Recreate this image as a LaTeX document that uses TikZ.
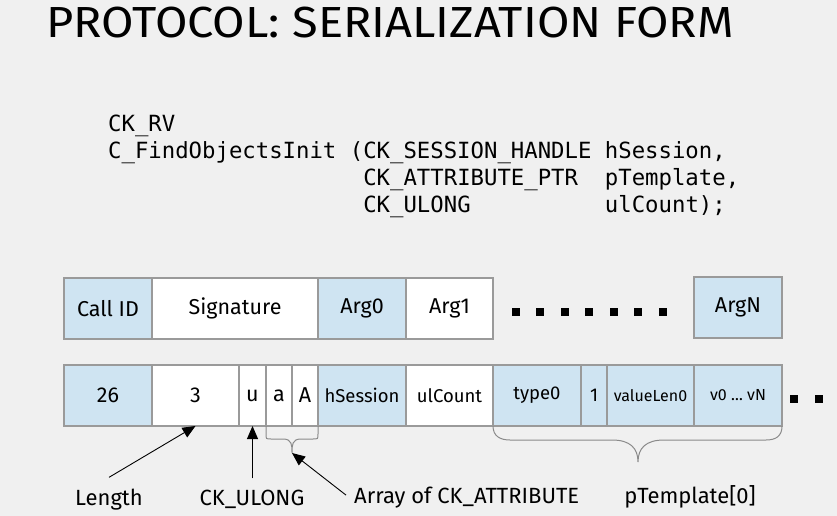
\documentclass[tikz,border=0pt]{standalone}
\usepackage{fontspec}
\setmainfont{Fira Sans}
\newfontfamily\codefont{DejaVu Sans Mono}
\usetikzlibrary{calc,arrows.meta,positioning}
\definecolor{bggray}{HTML}{F0F0F0}
\definecolor{cellblue}{HTML}{CFE4F2}
\definecolor{edgegray}{HTML}{9A9A9A}
\definecolor{bracegray}{HTML}{8A8A8A}
\tikzset{
  cell/.style={draw=edgegray, line width=1.2pt, fill=white, inner sep=0pt, outer sep=0pt,
    minimum height=61pt, align=center, font=\fontsize{21.5}{24}\selectfont},
  bluecell/.style={cell, fill=cellblue},
  midtext/.style={font=\fontsize{18.5}{22}\selectfont},
  smalltext/.style={font=\fontsize{16}{20}\selectfont},
  lbl/.style={font=\fontsize{22}{24}\selectfont, inner sep=2pt},
  arr/.style={-{Triangle[length=13pt,width=11pt]}, line width=0.9pt},
  brace/.style={draw=bracegray, line width=1pt},
  dot/.style={fill=black}
}
\begin{document}
\begin{tikzpicture}[x=1pt, y=-1pt, node distance=0pt]
  \fill[bggray] (0,0) rectangle (837,516);
  \useasboundingbox (0,0) rectangle (837,516);

  % title and prototype
  \node[anchor=base west, inner sep=0pt, font=\fontsize{43.5}{46}\selectfont] (title) at (46,38)
    {\scalebox{1.08}[1]{PROTOCOL: SERIALIZATION FORM}};
  \node[anchor=north west, inner sep=0pt, align=left, font=\codefont\fontsize{22.3}{27}\selectfont] (proto) at (108,114.5)
    {CK\_RV\\
     C\_FindObjectsInit (CK\_SESSION\_HANDLE hSession,\\
     \hphantom{C\_FindObjectsInit (}CK\_ATTRIBUTE\_PTR~~pTemplate,\\
     \hphantom{C\_FindObjectsInit (}CK\_ULONG~~~~~~~~~~ulCount);};

  % generic layout
  \node[bluecell, anchor=north west, minimum width=88pt] (callid) at (64,278) {Call ID};
  \node[cell, right=of callid, minimum width=166pt] (sig) {Signature};
  \node[bluecell, right=of sig, minimum width=88pt] (arg0) {Arg0};
  \node[cell, right=of arg0, minimum width=87pt] (arg1) {Arg1};
  \node[bluecell, anchor=north west, minimum width=88pt] (argn) at (694,277) {ArgN};
  \foreach \i in {0,...,6}
    \fill[dot] (511.5+24.5*\i,307.5) rectangle ++(8,8);

  % C_FindObjectsInit instance
  \node[bluecell, anchor=north west, minimum width=88pt] (callno) at (64,365) {26};
  \node[cell, right=of callno, minimum width=87pt] (three) {3};
  \node[cell, right=of three, minimum width=27pt] (u) {u};
  \node[cell, right=of u, minimum width=26pt] (a) {a};
  \node[cell, right=of a, minimum width=26pt] (bigA) {A};
  \node[bluecell, midtext, right=of bigA, minimum width=88pt] (hsess) {hSession};
  \node[cell, midtext, right=of hsess, minimum width=87pt] (ulcnt) {ulCount};
  \node[bluecell, midtext, right=of ulcnt, minimum width=88pt] (type0) {type0};
  \node[bluecell, midtext, right=of type0, minimum width=26pt] (one) {1};
  \node[bluecell, smalltext, right=of one, minimum width=87pt] (vlen) {valueLen0};
  \node[bluecell, smalltext, right=of vlen, minimum width=88pt] (vals) {v0 \dots{} vN};
  \fill[dot] (790,395) rectangle ++(8,8);
  \fill[dot] (815,395) rectangle ++(8,8);

  % braces
  \draw[brace] (a.south west) -- ++(0,8) .. controls +(0,5) and +(-5,0) .. ++(5,5) -- ++(12,0)
    .. controls +(9,0) and +(0,-8) .. ++(9,14) coordinate (atip)
    .. controls +(0,-8) and +(-9,0) .. ++(9,-14) -- ++(12,0)
    .. controls +(5,0) and +(0,5) .. ++(5,-5) -- (bigA.south east);
  \draw[brace] (type0.south west) .. controls +(0,10) and +(-10,0) .. ++(17,14) -- ++(102,0)
    .. controls +(18,0) and +(0,-14) .. ++(26,22) coordinate (ptip)
    .. controls +(0,-14) and +(-18,0) .. ++(26,-22) -- ++(102,0)
    .. controls +(10,0) and +(0,10) .. (vals.south east);

  % labels
  \node[lbl, anchor=base] (length) at (109,505) {Length};
  \node[lbl, anchor=base] (ulong) at (252,505) {CK\_ULONG};
  \node[lbl, anchor=base west] (array) at (352,503) {Array of CK\_ATTRIBUTE};
  \node[lbl, anchor=base] (ptmpl) at (690,503) {pTemplate[0]};

  \draw[arr] ([yshift=9pt]length.north) -- (three.south);
  \draw[arr] ($(u.south |- ulong.north)+(0,-9)$) -- (u.south);
  \draw[arr] ([xshift=-6pt,yshift=2pt]array.west) -- (atip);
\end{tikzpicture}
\end{document}
